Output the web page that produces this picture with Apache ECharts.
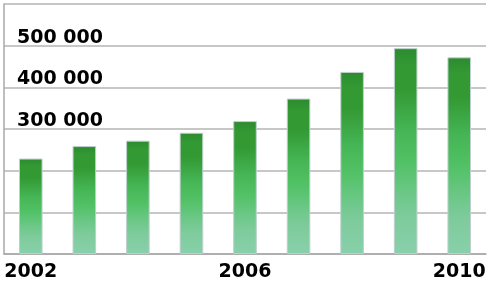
<!DOCTYPE html>
<html>
<head>
<meta charset="utf-8">
<script src="https://cdn.jsdelivr.net/npm/echarts@6/dist/echarts.min.js"></script>
<style>html,body{margin:0;padding:0;background:#fff}#c{width:491px;height:293px}</style>
</head>
<body>
<div id="c"></div>
<script>
const years = ['2002','2003','2004','2005','2006','2007','2008','2009','2010'];
const values = [229000, 259000, 272000, 291000, 319000, 373000, 437000, 494000, 472000];
const yTickValues = [300000, 400000, 500000];
const yTickLabels = ['300 000', '400 000', '500 000'];

const chart = echarts.init(document.getElementById('c'), null, {renderer: 'canvas'});
chart.setOption({
  animation: false,
  backgroundColor: '#fff',
  grid: {left: 4, right: 5, top: 4, bottom: 39},
  xAxis: {
    type: 'category',
    data: years,
    axisLine: {show: true, lineStyle: {color: '#a8a8a8', width: 1.5}},
    axisTick: {show: false},
    axisLabel: {
      interval: 3, margin: 9,
      color: '#000', fontFamily: 'DejaVu Sans', fontWeight: 'bold', fontSize: 19
    }
  },
  yAxis: {
    type: 'value', min: 0, max: 600000, interval: 100000,
    axisLine: {show: true, lineStyle: {color: '#a8a8a8', width: 1.5}},
    axisTick: {show: false},
    splitLine: {lineStyle: {color: '#b4b4b4', width: 1.5}},
    axisLabel: {
      inside: true, margin: 13, align: 'left', verticalAlign: 'bottom',
      lineHeight: 16,
      color: '#000', fontFamily: 'DejaVu Sans', fontWeight: 'bold', fontSize: 19,
      formatter: function (v) {
        const i = yTickValues.indexOf(v);
        return i >= 0 ? yTickLabels[i] : '';
      }
    }
  },
  series: [{
    type: 'bar',
    data: values,
    barWidth: '44%',
    itemStyle: {
      borderColor: '#bcd0cc', borderWidth: 1,
      color: new echarts.graphic.LinearGradient(0, 0, 0, 1, [
        {offset: 0, color: '#2c8a30'},
        {offset: 0.08, color: '#339933'},
        {offset: 0.2, color: '#339933'},
        {offset: 0.4, color: '#45b555'},
        {offset: 0.55, color: '#51c165'},
        {offset: 0.72, color: '#6ec88a'},
        {offset: 0.82, color: '#7ecb9c'},
        {offset: 1, color: '#88d0ab'}
      ])
    }
  }]
});
</script>
</body>
</html>
